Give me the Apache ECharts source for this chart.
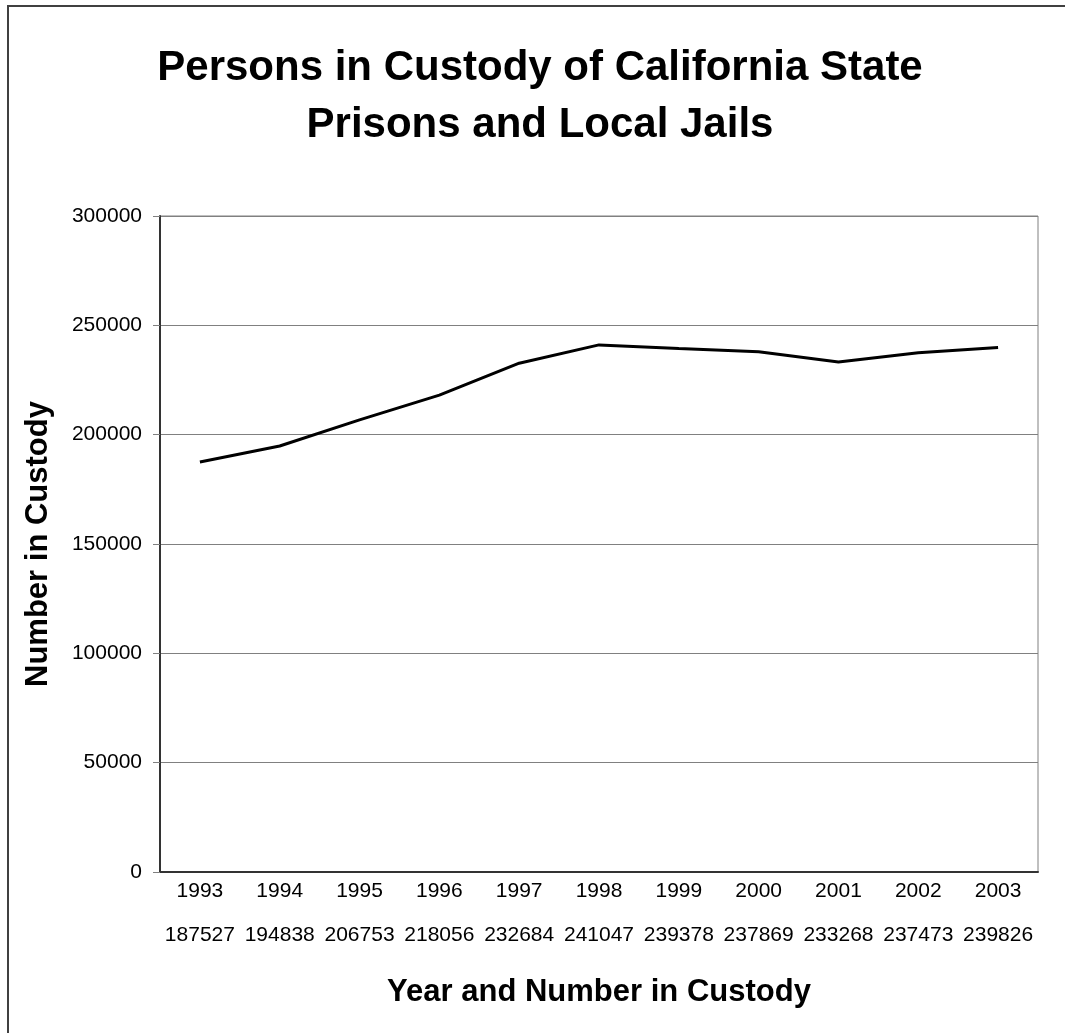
<!DOCTYPE html>
<html>
<head>
<meta charset="utf-8">
<script src="https://cdn.jsdelivr.net/npm/echarts@6/dist/echarts.min.js"></script>
<style>
html,body{margin:0;padding:0;background:#fff;}
#main{width:1065px;height:1033px;}
</style>
</head>
<body>
<div id="main"></div>
<script>
var years = ['1993','1994','1995','1996','1997','1998','1999','2000','2001','2002','2003'];
var custody = [187527,194838,206753,218056,232684,241047,239378,237869,233268,237473,239826];
var yTicks = [0,50000,100000,150000,200000,250000,300000];

var FONT = '"Liberation Sans", Arial, sans-serif';
var chart = echarts.init(document.getElementById('main'));
chart.setOption({
  backgroundColor: '#ffffff',
  animation: false,
  title: {
    text: 'Persons in Custody of California State\nPrisons and Local Jails',
    left: 540,
    top: 40,
    textAlign: 'center',
    padding: 0,
    textStyle: {fontFamily: FONT, fontSize: 42, fontWeight: 'bold', color: '#000', lineHeight: 57}
  },
  graphic: [{
    type: 'rect',
    shape: {x: 8, y: 6, width: 1100, height: 1100},
    style: {fill: 'none', stroke: '#404040', lineWidth: 2},
    silent: true
  }],
  grid: {left: 160, right: 27, top: 216, bottom: 161, show: true, borderColor: '#808080', borderWidth: 1, containLabel: false},
  xAxis: {
    type: 'category',
    data: years,
    boundaryGap: true,
    name: 'Year and Number in Custody',
    nameLocation: 'middle',
    nameGap: 105,
    nameTextStyle: {fontFamily: FONT, fontSize: 31, fontWeight: 'bold', color: '#000'},
    axisLine: {show: true, lineStyle: {color: '#333', width: 2}},
    axisTick: {show: false},
    axisLabel: {
      fontFamily: FONT, fontSize: 21, color: '#000', lineHeight: 22, margin: 8, interval: 0,
      formatter: function (v, i) { return v + '\n\n' + custody[i]; }
    },
    splitLine: {show: false}
  },
  yAxis: {
    type: 'value',
    min: yTicks[0],
    max: yTicks[yTicks.length - 1],
    interval: yTicks[1] - yTicks[0],
    name: 'Number in Custody',
    nameLocation: 'middle',
    nameGap: 106,
    nameTextStyle: {fontFamily: FONT, fontSize: 31, fontWeight: 'bold', color: '#000'},
    axisLine: {show: true, lineStyle: {color: '#333', width: 2}},
    axisTick: {show: true, length: 7, lineStyle: {color: '#808080', width: 1}},
    axisLabel: {fontFamily: FONT, fontSize: 21, color: '#000', margin: 18,
      formatter: function (v) { return String(v); }},
    splitLine: {show: true, lineStyle: {color: '#808080', width: 1}}
  },
  series: [{
    type: 'line',
    data: custody,
    showSymbol: false,
    symbol: 'none',
    lineStyle: {color: '#000', width: 3},
    z: 5
  }]
});
</script>
</body>
</html>
